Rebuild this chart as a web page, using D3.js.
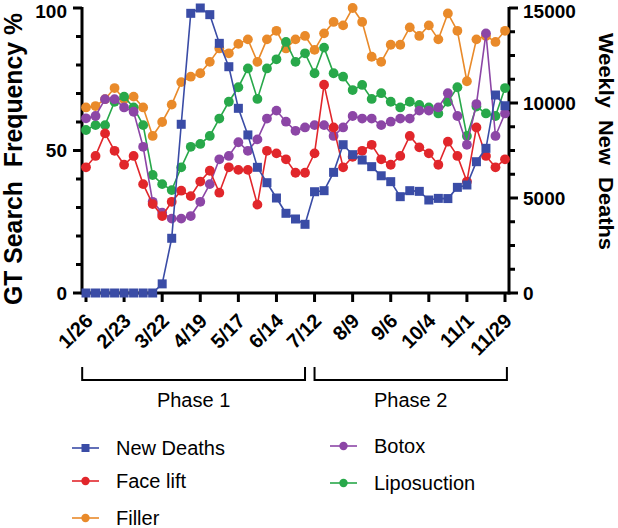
<!DOCTYPE html>
<html><head><meta charset="utf-8">
<script src="https://cdn.jsdelivr.net/npm/d3@7"></script>
<style>body{margin:0;background:#fff}svg{display:block;font-family:"Liberation Sans",Arial,sans-serif}text{white-space:pre}</style>
</head><body>
<svg id="c" width="618" height="528"></svg>
<script>
const tickLabels = ["1/26","2/23","3/22","4/19","5/17","6/14","7/12","8/9","9/6","10/4","11/1","11/29"];
const newDeaths = [0,0,0,0,0,0,0,0,480,2880,8880,14720,15000,14650,13140,11910,9720,8320,6615,5805,5000,4195,3895,3615,5330,5385,6350,7805,7280,7000,6650,6170,5860,5070,5385,5350,4895,4980,4970,5560,5685,6910,7615,10420,9855];
const faceLift = [44.1,48.1,56.0,49.9,45.0,48.1,38.2,31.2,27.0,32.0,35.9,34.0,39.1,42.9,35.2,44.1,43.2,43.2,31.0,49.9,49.0,46.9,42.2,42.2,49.0,73.1,58.1,44.1,47.8,49.9,52.0,46.9,45.0,48.1,55.1,51.1,49.0,45.0,53.1,48.1,39.1,58.1,48.1,44.1,46.9];
const filler = [65.1,65.6,68.0,71.9,68.0,68.9,65.1,55.1,60.0,66.1,74.0,75.9,77.1,81.1,85.8,84.1,87.4,89.0,81.1,89.0,92.0,85.8,89.0,90.2,85.3,91.1,95.1,93.9,100,95.1,82.9,81.1,87.1,87.1,93.2,90.2,93.9,89.0,98.1,92.0,74.3,89.0,90.2,88.1,92.0];
const botox = [61.3,62.1,68.0,68.0,65.1,63.6,51.3,32.0,28.2,26.1,26.1,27.0,32.0,38.2,46.9,48.1,52.9,49.9,53.9,61.2,64.0,60.1,56.9,58.1,58.9,58.9,55.1,58.1,62.1,61.2,61.2,58.9,60.1,61.2,61.2,64.0,64.0,65.1,70.1,62.1,52.0,66.3,91.1,55.1,63.0];
const liposuction = [57.2,58.9,58.9,67.1,68.9,65.1,58.9,41.4,38.2,36.1,44.1,51.3,52.3,55.1,61.2,67.1,72.2,78.8,68.1,78.8,82.0,88.1,81.1,84.1,77.1,86.1,77.1,75.9,71.2,73.0,68.1,70.1,67.1,65.1,67.1,66.0,65.1,63.0,67.1,72.2,55.1,65.4,63.0,62.1,71.9];
const leftTicks = [0,50,100];
const rightTicks = [0,5000,10000,15000];
const phases = [{name:"Phase 1", from:-0.4, to:23.0},{name:"Phase 2", from:24.0, to:44.2}];

const svg = d3.select("#c");
const x = d3.scaleLinear().domain([0,44]).range([86,505]);
const yL = d3.scaleLinear().domain([0,100]).range([293,8]);
const yR = d3.scaleLinear().domain([0,15000]).range([293,8]);
const AX = 82, AXR = 509;

const colors = {deaths:"#3a4ca6", face:"#e1262b", filler:"#e98a2a", botox:"#8c46a6", lipo:"#28a84a"};

// axes
const gL = svg.append("g").attr("transform",`translate(${AX},0)`);
gL.append("line").attr("x1",0).attr("x2",0).attr("y1",yL(100)-1).attr("y2",yL(0)+1.5).attr("stroke","#000").attr("stroke-width",3);
d3.range(0,101,10).forEach(v=>{
  const major = v%50===0;
  gL.append("line").attr("x1",0).attr("x2",major?-9:-6).attr("y1",yL(v)).attr("y2",yL(v)).attr("stroke","#000").attr("stroke-width",3);
});
leftTicks.forEach(v=>{
  gL.append("text").attr("x",-15).attr("y",Math.max(yL(v),11)).attr("dy","0.36em").attr("text-anchor","end")
    .attr("font-size",19).attr("font-weight","bold").text(v);
});
const gR = svg.append("g").attr("transform",`translate(${AXR},0)`);
gR.append("line").attr("x1",0).attr("x2",0).attr("y1",yR(15000)-1).attr("y2",yR(0)+1.5).attr("stroke","#000").attr("stroke-width",3);
d3.range(0,15001,1250).forEach(v=>{
  const major = v%5000===0;
  gR.append("line").attr("x1",0).attr("x2",major?9:6).attr("y1",yR(v)).attr("y2",yR(v)).attr("stroke","#000").attr("stroke-width",3);
});
rightTicks.forEach(v=>{
  gR.append("text").attr("x",14).attr("y",Math.max(yR(v),11)).attr("dy","0.36em").attr("text-anchor","start")
    .attr("font-size",19).attr("font-weight","bold").text(v);
});
// x axis
svg.append("line").attr("x1",AX).attr("x2",AXR).attr("y1",yL(0)).attr("y2",yL(0)).attr("stroke","#000").attr("stroke-width",3);
tickLabels.forEach((t,k)=>{
  const xp = x(k*4);
  svg.append("line").attr("x1",xp).attr("x2",xp).attr("y1",yL(0)).attr("y2",yL(0)+9).attr("stroke","#000").attr("stroke-width",3);
  svg.append("text").attr("transform",`translate(${xp+3},${yL(0)+24}) rotate(-45)`)
    .attr("text-anchor","end").attr("dy","0.36em").attr("font-size",20).attr("font-weight","bold").text(t);
});
// titles
svg.append("text").attr("transform","translate(22,159) rotate(-90)").attr("text-anchor","middle")
  .attr("font-size",25).attr("font-weight","bold").attr("textLength",292).attr("lengthAdjust","spacingAndGlyphs")
  .text("GT Search  Frequency %");
svg.append("text").attr("transform","translate(599,141.5) rotate(90)").attr("text-anchor","middle")
  .attr("font-size",21).attr("font-weight","bold").attr("textLength",217).attr("lengthAdjust","spacingAndGlyphs")
  .text("Weekly  New  Deaths");

// phases
phases.forEach(p=>{
  const x1 = x(p.from), x2 = x(p.to);
  svg.append("path").attr("d",`M${x1},367V380H${x2}V367`).attr("fill","none").attr("stroke","#000").attr("stroke-width",2);
  svg.append("text").attr("x",(x1+x2)/2).attr("y",407).attr("text-anchor","middle").attr("font-size",20).text(p.name);
});

// series
function drawSeries(vals, scale, color, square){
  const line = d3.line().x((d,i)=>x(i)).y(d=>scale(d));
  svg.append("path").datum(vals).attr("d",line).attr("fill","none").attr("stroke",color).attr("stroke-width",1.6);
  const g = svg.append("g");
  if(square){
    g.selectAll("rect").data(vals).join("rect").attr("x",(d,i)=>x(i)-4.5).attr("y",d=>scale(d)-4.5)
      .attr("width",9).attr("height",9).attr("fill",color);
  } else {
    g.selectAll("circle").data(vals).join("circle").attr("cx",(d,i)=>x(i)).attr("cy",d=>scale(d))
      .attr("r",4.9).attr("fill",color);
  }
}
drawSeries(filler, yL, colors.filler, false);
drawSeries(liposuction, yL, colors.lipo, false);
drawSeries(botox, yL, colors.botox, false);
drawSeries(faceLift, yL, colors.face, false);
drawSeries(newDeaths, yR, colors.deaths, true);

// legend
const legend = [
  {name:"New Deaths", c:colors.deaths, sq:true, lx:72, ly:448},
  {name:"Face lift", c:colors.face, sq:false, lx:72, ly:481},
  {name:"Filler", c:colors.filler, sq:false, lx:72, ly:518},
  {name:"Botox", c:colors.botox, sq:false, lx:330, ly:446},
  {name:"Liposuction", c:colors.lipo, sq:false, lx:330, ly:483}
];
legend.forEach(l=>{
  svg.append("line").attr("x1",l.lx).attr("x2",l.lx+27).attr("y1",l.ly).attr("y2",l.ly).attr("stroke",l.c).attr("stroke-width",1.6);
  if(l.sq) svg.append("rect").attr("x",l.lx+9.5).attr("y",l.ly-4).attr("width",8).attr("height",8).attr("fill",l.c);
  else svg.append("circle").attr("cx",l.lx+13.5).attr("cy",l.ly).attr("r",4.2).attr("fill",l.c);
  svg.append("text").attr("x",l.lx+44).attr("y",l.ly).attr("dy","0.36em").attr("font-size",20).text(l.name);
});
</script>
</body></html>
